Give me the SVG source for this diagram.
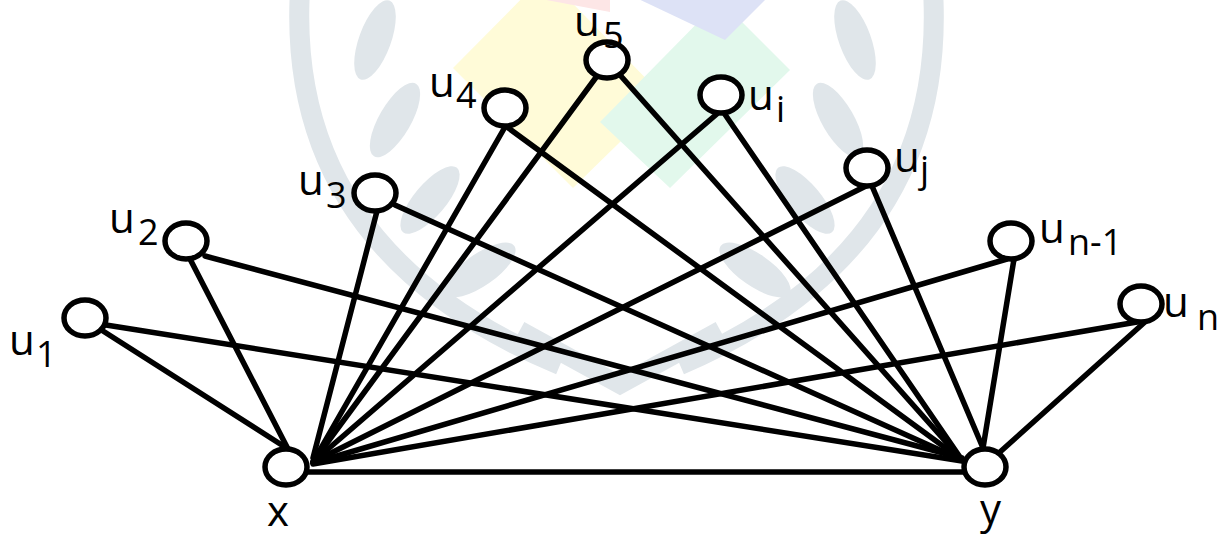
<svg xmlns="http://www.w3.org/2000/svg" width="1220" height="535" viewBox="0 0 1220 535">
  <style>
    .edge { stroke: #000; stroke-width: 5.5; fill: none; stroke-linecap: round; }
    .vertex { fill: #fff; stroke: #000; stroke-width: 5.5; }
    .lbl { font-family: "Open Sans", "Liberation Sans", sans-serif; fill: #000; }
    .main { font-size: 42px; }
    .sub { font-size: 36px; }
    .wreath { fill: none; stroke: #e0e6ea; stroke-width: 20; }
    .leaf { fill: #e0e6ea; }
  </style>

  <rect width="1220" height="535" fill="#fff"/>

  <!-- faint background emblem -->
  <g id="emblem">
    <polygon points="545,-25 453,68 573,188 665,98" fill="#fffbd8"/>
    <polygon points="720,0 600,122 670,188 790,70" fill="#e2f8ec"/>
    <polygon points="630,-5 770,-5 725,40" fill="#dde2f6"/>
    <polygon points="520,-5 610,-5 610,12" fill="#fde6e6"/>
    <path class="wreath" d="M300,-10 Q285,250 560,365"/>
    <path class="wreath" d="M933,-10 Q948,250 680,365"/>
    <path d="M520,330 L620,385 L720,330" fill="none" stroke="#e0e6ea" stroke-width="18"/>
    <ellipse class="leaf" cx="375" cy="40" rx="42" ry="16" transform="rotate(-70 375 40)"/>
    <ellipse class="leaf" cx="395" cy="120" rx="42" ry="16" transform="rotate(-60 395 120)"/>
    <ellipse class="leaf" cx="430" cy="200" rx="42" ry="16" transform="rotate(-50 430 200)"/>
    <ellipse class="leaf" cx="480" cy="270" rx="42" ry="16" transform="rotate(-35 480 270)"/>
    <ellipse class="leaf" cx="855" cy="40" rx="42" ry="16" transform="rotate(70 855 40)"/>
    <ellipse class="leaf" cx="838" cy="120" rx="42" ry="16" transform="rotate(60 838 120)"/>
    <ellipse class="leaf" cx="805" cy="200" rx="42" ry="16" transform="rotate(50 805 200)"/>
    <ellipse class="leaf" cx="755" cy="270" rx="42" ry="16" transform="rotate(35 755 270)"/>
  </g>

  <!-- edges: every u vertex joins both x and y, plus the x-y edge -->
  <g id="connectors">
    <line class="edge" x1="103" y1="331" x2="288" y2="449"/>
    <line class="edge" x1="106" y1="325" x2="962" y2="461"/>
    <line class="edge" x1="190" y1="259" x2="288" y2="449"/>
    <line class="edge" x1="205" y1="256" x2="962" y2="458"/>
    <line class="edge" x1="377" y1="211" x2="313" y2="458"/>
    <line class="edge" x1="395" y1="205" x2="962" y2="460"/>
    <line class="edge" x1="505" y1="127" x2="313" y2="462"/>
    <line class="edge" x1="507" y1="127" x2="962" y2="460"/>
    <line class="edge" x1="597" y1="76" x2="313" y2="462"/>
    <line class="edge" x1="620" y1="75" x2="962" y2="460"/>
    <line class="edge" x1="718" y1="113" x2="313" y2="462"/>
    <line class="edge" x1="724" y1="113" x2="962" y2="460"/>
    <line class="edge" x1="866" y1="186" x2="313" y2="462"/>
    <line class="edge" x1="872" y1="186" x2="983" y2="448"/>
    <line class="edge" x1="1007" y1="259" x2="313" y2="463"/>
    <line class="edge" x1="1014" y1="259" x2="983" y2="448"/>
    <line class="edge" x1="1137" y1="322" x2="313" y2="464"/>
    <line class="edge" x1="1146" y1="321" x2="1000" y2="452"/>
    <line class="edge" x1="307" y1="472" x2="964" y2="472"/>
  </g>

  <g id="node-u1">
    <ellipse class="vertex" cx="85" cy="318" rx="21" ry="18"/>
    <text class="lbl main" x="9" y="355">u</text>
    <text class="lbl sub" x="36" y="367">1</text>
  </g>
  <g id="node-u2">
    <ellipse class="vertex" cx="186" cy="241" rx="21" ry="18"/>
    <text class="lbl main" x="109" y="233">u</text>
    <text class="lbl sub" x="138" y="245">2</text>
  </g>
  <g id="node-u3">
    <ellipse class="vertex" cx="375" cy="193" rx="21" ry="18"/>
    <text class="lbl main" x="298" y="195">u</text>
    <text class="lbl sub" x="326" y="208">3</text>
  </g>
  <g id="node-u4">
    <ellipse class="vertex" cx="505" cy="108" rx="21" ry="18"/>
    <text class="lbl main" x="429" y="97">u</text>
    <text class="lbl sub" x="456" y="108">4</text>
  </g>
  <g id="node-u5">
    <ellipse class="vertex" cx="607" cy="60" rx="21" ry="18"/>
    <text class="lbl main" x="574" y="36">u</text>
    <text class="lbl sub" x="603" y="48">5</text>
  </g>
  <g id="node-ui">
    <ellipse class="vertex" cx="721" cy="95" rx="21" ry="18"/>
    <text class="lbl main" x="748" y="110">u</text>
    <text class="lbl sub" x="776" y="122">i</text>
  </g>
  <g id="node-uj">
    <ellipse class="vertex" cx="867" cy="168" rx="21" ry="18"/>
    <text class="lbl main" x="894" y="172">u</text>
    <text class="lbl sub" x="920" y="182">j</text>
  </g>
  <g id="node-un-1">
    <ellipse class="vertex" cx="1011" cy="241" rx="21" ry="18"/>
    <text class="lbl main" x="1039" y="243">u</text>
    <text class="lbl sub" x="1068" y="255">n-1</text>
  </g>
  <g id="node-un">
    <ellipse class="vertex" cx="1141" cy="304" rx="21" ry="18"/>
    <text class="lbl main" x="1163" y="317">u</text>
    <text class="lbl sub" x="1197" y="330">n</text>
  </g>
  <g id="node-x">
    <ellipse class="vertex" cx="286" cy="467" rx="21" ry="18"/>
    <text class="lbl main" x="267" y="526">x</text>
  </g>
  <g id="node-y">
    <ellipse class="vertex" cx="985" cy="467" rx="21" ry="18"/>
    <text class="lbl main" x="980" y="524">y</text>
  </g>
</svg>
